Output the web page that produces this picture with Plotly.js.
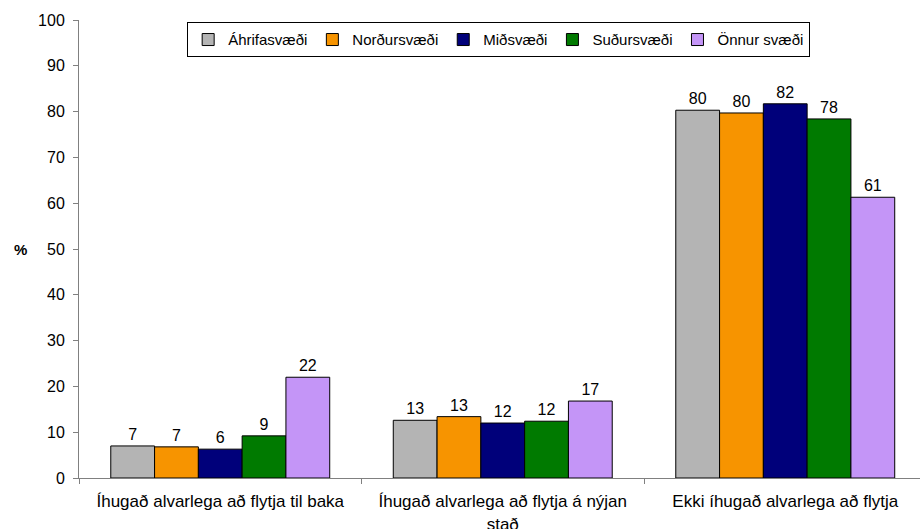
<!DOCTYPE html>
<html>
<head>
<meta charset="utf-8">
<script src="https://cdn.plot.ly/plotly-3.0.1.min.js"></script>
<style>html,body{margin:0;padding:0;background:#fff;}#chart{width:920px;height:529px;}</style>
</head>
<body>
<div id="chart"></div>
<script>
const categories = [
  "Íhugað alvarlega að flytja til baka",
  "Íhugað alvarlega að flytja á nýjan<br>stað",
  "Ekki íhugað alvarlega að flytja"
];
const seriesNames = ["Áhrifasvæði", "Norðursvæði", "Miðsvæði", "Suðursvæði", "Önnur svæði"];
const ahrifasvaedi = [7.0, 12.6, 80.3];
const nordursvaedi = [6.8, 13.4, 79.7];
const midsvaedi    = [6.3, 12.0, 81.7];
const sudursvaedi  = [9.2, 12.4, 78.4];
const onnurSvaedi  = [22.0, 16.8, 61.3];
const seriesValues = [ahrifasvaedi, nordursvaedi, midsvaedi, sudursvaedi, onnurSvaedi];
const colors = ["#B4B4B4", "#F79400", "#00007A", "#007A00", "#C495F7"];

const traces = seriesValues.map((vals, i) => ({
  type: "bar",
  name: seriesNames[i],
  x: categories,
  y: vals,
  marker: {color: colors[i], line: {color: "#000", width: 1}},
  text: vals.map(v => Math.round(v).toString()),
  textposition: "outside",
  textfont: {family: "Liberation Sans, Arial, sans-serif", size: 16, color: "#000"},
  cliponaxis: false
}));

const layout = {
  width: 920, height: 529,
  margin: {l: 79, r: 0, t: 20, b: 51},
  paper_bgcolor: "#fff", plot_bgcolor: "#fff",
  font: {family: "Liberation Sans, Arial, sans-serif", size: 16, color: "#000"},
  barmode: "group",
  bargap: 0.225,
  bargroupgap: 0,
  showlegend: true,
  legend: {
    orientation: "h", x: 0.499, xanchor: "center", y: 0.995, yanchor: "top",
    bordercolor: "#000", borderwidth: 1, bgcolor: "#fff",
    font: {size: 15}, itemwidth: 30, traceorder: "normal"
  },
  xaxis: {
    type: "category",
    range: [-0.5, 2.477],
    showline: true, linecolor: "#808080", linewidth: 1,
    ticks: "outside", ticklen: 5, tickcolor: "#808080", tickson: "boundaries",
    ticklabelstandoff: 8,
    showgrid: false, zeroline: false,
    tickfont: {size: 17}
  },
  yaxis: {
    range: [0, 100], dtick: 10,
    showline: true, linecolor: "#808080", linewidth: 1,
    ticks: "outside", ticklen: 5, tickcolor: "#808080",
    ticklabelstandoff: 5,
    showgrid: false, zeroline: false,
    tickfont: {size: 16}
  },
  annotations: [{
    text: "<b>%</b>", xref: "paper", yref: "paper",
    x: -0.069, y: 0.5, xanchor: "center", yanchor: "middle",
    showarrow: false, font: {size: 15}
  }]
};

Plotly.newPlot("chart", traces, layout, {displayModeBar: false, staticPlot: true});
</script>
</body>
</html>
